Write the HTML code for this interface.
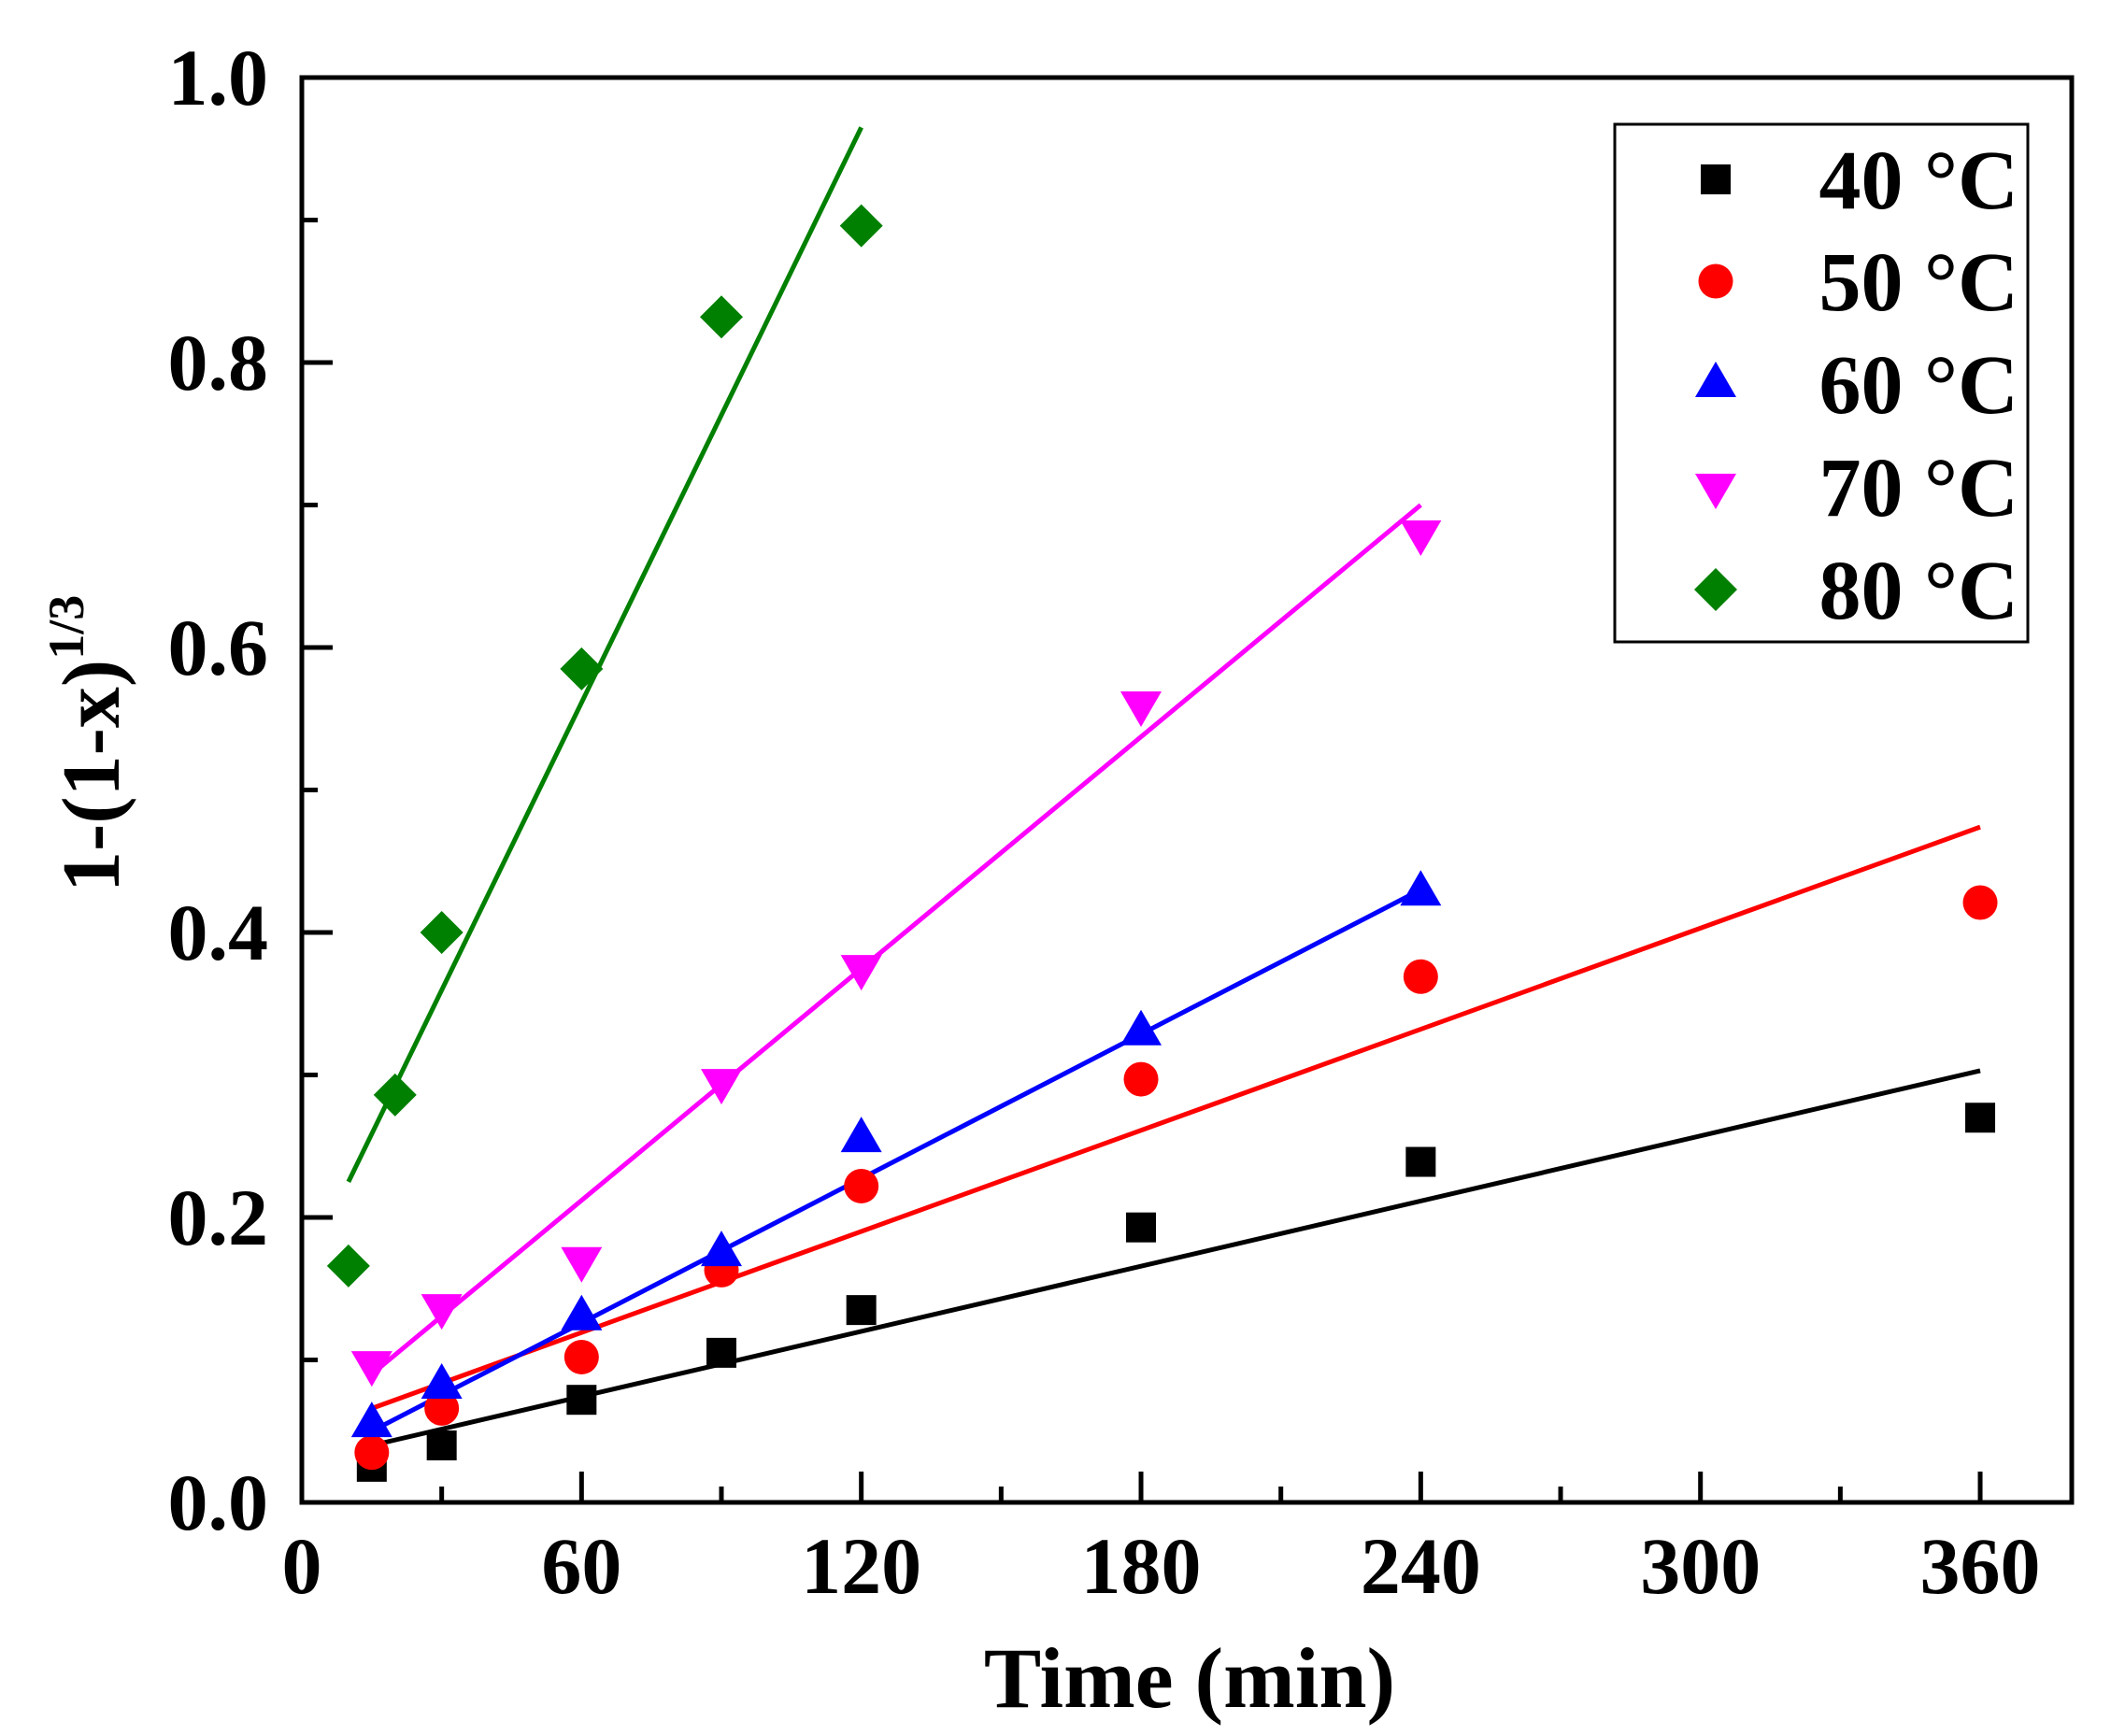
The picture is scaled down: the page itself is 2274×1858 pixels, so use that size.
<!DOCTYPE html>
<html><head><meta charset="utf-8"><style>html,body{margin:0;padding:0;background:#fff}</style></head>
<body>
<svg width="2274" height="1853" viewBox="0 0 2274 1853" xmlns="http://www.w3.org/2000/svg" font-family="Liberation Serif, serif" font-weight="bold">
<defs>
<g id="sq"><rect x="-16" y="-16" width="32" height="32" fill="#000"/></g>
<g id="ci"><circle r="18.5" fill="#ff0000"/></g>
<g id="tu"><polygon points="0,-24 22,14 -22,14" fill="#0000ff"/></g>
<g id="td"><polygon points="0,24 22,-14 -22,-14" fill="#ff00ff"/></g>
<g id="di"><polygon points="0,-23 23,0 0,23 -23,0" fill="#008000"/></g>
</defs>
<g id="plot"></g>
<script>
<![CDATA[
var X=function(t){return 323+4.989*t}, Y=function(v){return 1608-1525*v};
var s='';
s+='<rect x="323" y="83" width="1894" height="1525" fill="none" stroke="#000" stroke-width="5"/>';
for(var t=0;t<=380;t+=30){var maj=(t%60==0);var L=maj?33:17;s+='<line x1="'+X(t)+'" y1="1608" x2="'+X(t)+'" y2="'+(1608-L)+'" stroke="#000" stroke-width="5"/>';
 if(maj) s+='<text x="'+X(t)+'" y="1705" font-size="86" text-anchor="middle">'+t+'</text>';}
for(var i=0;i<=10;i++){var v=i/10;var maj=(i%2==0);var L=maj?33:17;s+='<line x1="323" y1="'+Y(v)+'" x2="'+(323+L)+'" y2="'+Y(v)+'" stroke="#000" stroke-width="5"/>';
 if(maj) s+='<text x="287" y="'+(Y(v)+29)+'" font-size="86" text-anchor="end">'+v.toFixed(1)+'</text>';}
function ln(a,b,c,d,col){s+='<line x1="'+X(a)+'" y1="'+Y(b)+'" x2="'+X(c)+'" y2="'+Y(d)+'" stroke="'+col+'" stroke-width="5"/>';}
ln(15,0.04,360,0.303,'#000');
ln(15,0.066,360,0.474,'#ff0000');
ln(15,0.05,240,0.43,'#0000ff');
ln(15,0.09,240,0.70,'#ff00ff');
ln(10,0.225,120,0.965,'#008000');
function pts(id,arr){for(var i=0;i<arr.length;i++)s+='<use href="#'+id+'" x="'+X(arr[i][0])+'" y="'+Y(arr[i][1])+'"/>';}
pts('sq',[[15,0.025],[30,0.04],[60,0.072],[90,0.105],[120,0.135],[180,0.193],[240,0.239],[360,0.27]]);
pts('ci',[[15,0.035],[30,0.066],[60,0.102],[90,0.163],[120,0.222],[180,0.297],[240,0.369],[360,0.421]]);
pts('tu',[[15,0.055],[30,0.082],[60,0.13],[90,0.175],[120,0.255],[180,0.33],[240,0.428]]);
pts('td',[[15,0.097],[30,0.137],[60,0.17],[90,0.295],[120,0.375],[180,0.56],[240,0.68]]);
pts('di',[[10,0.166],[20,0.286],[30,0.40],[60,0.585],[90,0.832],[120,0.896]]);
s+='<rect x="1728" y="133" width="442" height="554" fill="#fff" stroke="#000" stroke-width="3"/>';
var ids=['sq','ci','tu','td','di'],lab=['40','50','60','70','80'],ys=[192,301,411,521,631];
for(var i=0;i<5;i++){s+='<use href="#'+ids[i]+'" x="1836" y="'+ys[i]+'"/>';
 s+='<text x="2160" y="'+(ys[i]+31)+'" font-size="90" text-anchor="end">'+lab[i]+' \u00B0C</text>';}
s+='<text x="1273" y="1827" font-size="92" text-anchor="middle">Time (min)</text>';
s+='<text transform="translate(127,955) rotate(-90)" font-size="88">1-(1-x)<tspan font-size="54" dy="-38">1/3</tspan></text>';
document.getElementById('plot').innerHTML=s;
]]>
</script>
</svg>
</body></html>
